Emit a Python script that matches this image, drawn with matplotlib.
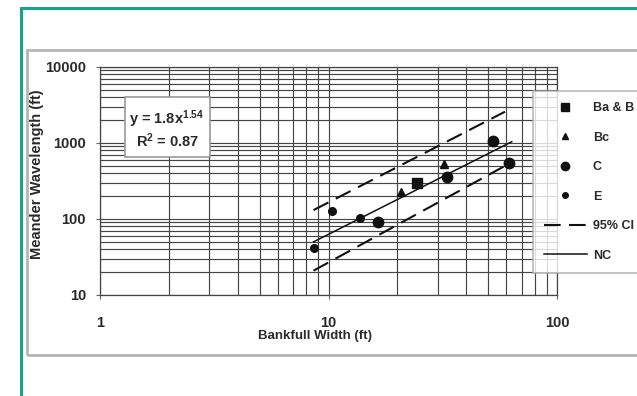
import matplotlib
matplotlib.use("Agg")
import matplotlib.pyplot as plt
from matplotlib.patches import Rectangle
from matplotlib.lines import Line2D
from matplotlib.ticker import LogLocator, NullFormatter, FixedLocator, FixedFormatter

plt.rcParams['font.family'] = ['Liberation Sans', 'DejaVu Sans']
plt.rcParams['mathtext.default'] = 'regular'

# ---- data ----
ba_b_x = [24.3]
ba_b_y = [300]
bc_x = [20.8, 32.0]
bc_y = [225, 530]
c_x = [16.4, 32.9, 52.3, 61.8]
c_y = [92, 360, 1070, 550]
e_x = [8.6, 10.4, 13.7]
e_y = [41, 129, 102]

nc_x = [8.6, 63.4]
nc_y = [50, 1040]
ci_up_x = [8.6, 59.2]
ci_up_y = [131, 2580]
ci_lo_x = [8.6, 60.2]
ci_lo_y = [20.9, 514]

x_ticks = [1, 10, 100]
x_labels = ['1', '10', '100']
y_ticks = [10, 100, 1000, 10000]
y_labels = ['10', '100', '1000', '10000']

eq_text = 'y = 1.8x$^{1.54}$'
r2_text = 'R$^{2}$ = 0.87'
legend_labels = ['Ba & B', 'Bc', 'C', 'E', '95% CI', 'NC']

W, H = 637, 396
fig = plt.figure(figsize=(W / 100, H / 100), dpi=100)

# outer green frame
fig.patches.append(Rectangle((21 / W, -0.2), 1.5, 1 - 8 / H + 0.2, transform=fig.transFigure,
                             fill=False, edgecolor='#17a587', lw=2.2, zorder=0))
# gray chart border
fig.patches.append(Rectangle((27 / W, 1 - 355 / H), 1.5, (355 - 50) / H, transform=fig.transFigure,
                             fill=False, edgecolor='#b5b5b5', lw=2.0, zorder=0))

ax = fig.add_axes([100 / W, 1 - 295 / H, 457 / W, 228 / H])
ax.set_xscale('log')
ax.set_yscale('log')
ax.set_xlim(1, 100)
ax.set_ylim(10, 10000)
ax.set_facecolor('white')

ax.xaxis.set_major_locator(FixedLocator(x_ticks))
ax.xaxis.set_major_formatter(FixedFormatter(x_labels))
ax.yaxis.set_major_locator(FixedLocator(y_ticks))
ax.yaxis.set_major_formatter(FixedFormatter(y_labels))
ax.xaxis.set_minor_locator(LogLocator(base=10, subs=range(2, 10)))
ax.yaxis.set_minor_locator(LogLocator(base=10, subs=range(2, 10)))
ax.xaxis.set_minor_formatter(NullFormatter())
ax.yaxis.set_minor_formatter(NullFormatter())

ax.grid(which='both', color='#454545', lw=0.85)
ax.set_axisbelow(True)
for s in ax.spines.values():
    s.set_color('#454545')
    s.set_linewidth(0.9)

ax.tick_params(which='major', direction='out', length=3, width=0.8, color='#666',
               labelsize=10.5, labelcolor='#2a2a2a')
ax.tick_params(axis='x', which='major', pad=12)
ax.tick_params(axis='y', which='major', pad=7)
ax.tick_params(which='minor', length=0)
for lab in ax.get_xticklabels() + ax.get_yticklabels():
    lab.set_fontweight('bold')

ax.set_xlabel('Bankfull Width (ft)', fontsize=9.5, fontweight='bold', color='#2a2a2a')
ax.set_ylabel('Meander Wavelength (ft)', fontsize=10.5, fontweight='bold', color='#2a2a2a')
ax.xaxis.set_label_coords(0.47, -0.155)
ax.yaxis.set_label_coords(-0.122, 0.53)

# lines
ax.plot(ci_up_x, ci_up_y, color='#111', lw=1.5, dashes=(8, 4), zorder=3)
ax.plot(ci_lo_x, ci_lo_y, color='#111', lw=1.5, dashes=(8, 4), zorder=3)
ax.plot(nc_x, nc_y, color='#111', lw=1.1, zorder=3)

# points
ax.plot(ba_b_x, ba_b_y, 's', color='#111', ms=7, zorder=4)
ax.plot(bc_x, bc_y, '^', color='#111', ms=6, zorder=4)
ax.plot(c_x, c_y, 'o', color='#111', ms=7.5, zorder=4)
ax.plot(e_x, e_y, 'o', color='#111', ms=5.5, zorder=4)

# equation box
ax.add_patch(Rectangle((0.0547, 0.605), 0.186, 0.263, transform=ax.transAxes,
                       facecolor='white', edgecolor='#9a9a9a', lw=1.2, zorder=5))
ax.text(0.145, 0.772, eq_text, transform=ax.transAxes, ha='center', va='center',
        fontsize=10.5, fontweight='bold', color='#2a2a2a', zorder=6)
ax.text(0.147, 0.676, r2_text, transform=ax.transAxes, ha='center', va='center',
        fontsize=10.5, fontweight='bold', color='#2a2a2a', zorder=6)

# legend
handles = [
    Line2D([], [], ls='none', marker='s', color='#111', ms=6),
    Line2D([], [], ls='none', marker='^', color='#111', ms=5),
    Line2D([], [], ls='none', marker='o', color='#111', ms=6),
    Line2D([], [], ls='none', marker='o', color='#111', ms=4),
    Line2D([], [], color='#111', lw=1.5, dashes=(8, 4)),
    Line2D([], [], color='#111', lw=1.1),
]
leg = ax.legend(handles, legend_labels, loc='upper left', bbox_to_anchor=(0.947, 0.895),
                frameon=True, fancybox=False, fontsize=9, labelspacing=1.4,
                handlelength=3.4, handletextpad=0.5, borderpad=0.9, borderaxespad=0,
                labelcolor='#2a2a2a')
leg.get_frame().set_edgecolor('#a8a8a8')
leg.get_frame().set_linewidth(1.2)
leg.set_zorder(10)
leg.set_clip_on(False)
for t in leg.get_texts():
    t.set_fontweight('bold')

fig.savefig('out.png', dpi=100)
